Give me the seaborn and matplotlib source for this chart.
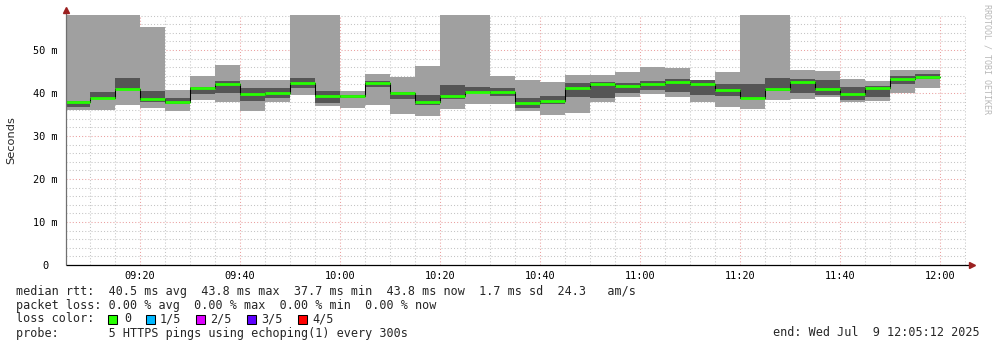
import numpy as np
import pandas as pd
import matplotlib
matplotlib.use("Agg")
import matplotlib.pyplot as plt
from matplotlib.patches import Rectangle
import seaborn as sns

# ---------------- data (ms), 5-minute slots starting 09:05 ... 11:55 ----------------
slot_start_min = [5 * k for k in range(1, 36)]  # minutes after 09:00
ping_min = [36.0, 36.0, 37.2, 36.6, 35.9, 38.4, 37.9, 35.9, 37.8, 39.6,
            37.0, 36.6, 37.2, 35.2, 34.7, 36.3, 37.4, 37.4, 35.8, 34.9,
            35.3, 37.8, 39.1, 39.7, 39.0, 38.0, 36.7, 36.3, 38.4, 38.7,
            39.1, 38.0, 38.1, 40.1, 41.2]
ping_q2 = [36.8, 38.6, 40.8, 38.0, 37.5, 39.8, 40.1, 38.2, 38.9, 41.2,
           37.6, 38.8, 41.5, 38.7, 37.1, 38.6, 39.9, 39.3, 36.4, 37.5,
           39.1, 38.9, 39.9, 40.7, 40.3, 39.5, 39.3, 38.5, 40.5, 40.1,
           39.5, 38.4, 39.0, 42.1, 43.3]
median_rtt = [37.8, 38.9, 41.0, 38.5, 37.9, 41.1, 42.2, 39.8, 40.0, 42.4,
              39.3, 39.3, 42.4, 39.9, 37.8, 39.3, 40.3, 40.2, 37.7, 38.2,
              41.2, 42.0, 41.6, 42.0, 42.6, 42.1, 40.7, 38.9, 40.9, 42.5,
              40.9, 39.8, 41.1, 43.3, 43.8]
ping_q4 = [38.2, 40.2, 43.5, 40.5, 38.8, 41.4, 42.7, 41.2, 41.2, 43.5,
           40.5, 39.6, 42.8, 40.3, 39.5, 41.9, 41.4, 41.2, 38.8, 39.3,
           42.3, 42.6, 42.4, 42.8, 43.3, 43.0, 42.1, 42.1, 43.5, 43.3,
           43.0, 41.4, 41.6, 43.9, 44.4]
ping_max = [65.0, 70.0, 62.0, 55.3, 40.6, 44.0, 46.5, 43.0, 43.0, 68.0,
            60.0, 40.4, 44.4, 43.8, 46.3, 64.0, 61.0, 44.0, 43.0, 42.6,
            44.2, 44.2, 44.9, 46.0, 45.8, 43.1, 44.9, 66.0, 63.0, 45.3,
            45.1, 43.2, 42.9, 45.3, 45.3]

x_tick_min = [20, 40, 60, 80, 100, 120, 140, 160, 180]
x_tick_labels = ["09:20", "09:40", "10:00", "10:20", "10:40", "11:00", "11:20", "11:40", "12:00"]
y_tick_vals = [0, 10, 20, 30, 40, 50]
y_tick_labels = ["0", "10 m", "20 m", "30 m", "40 m", "50 m"]

loss_labels = ["0", "1/5", "2/5", "3/5", "4/5"]
loss_colors = ["#26ff00", "#00b8ff", "#dd00ff", "#5e00ff", "#ff0000"]

legend_lines = [
    "median rtt:  40.5 ms avg  43.8 ms max  37.7 ms min  43.8 ms now  1.7 ms sd  24.3   am/s",
    "packet loss: 0.00 % avg  0.00 % max  0.00 % min  0.00 % now",
    "loss color:",
    "probe:       5 HTTPS pings using echoping(1) every 300s",
]
end_text = "end: Wed Jul  9 12:05:12 2025"

# ---------------- figure ----------------
sns.set_style("white")
MONO = ["DejaVu Sans Mono"]
plt.rcParams["font.family"] = MONO

W, H = 997, 347
fig = plt.figure(figsize=(W / 100, H / 100), dpi=100)
fig.patch.set_facecolor("white")
ax = fig.add_axes([66 / W, 1 - 265 / H, 900 / W, 250 / H])
ax.set_facecolor("white")

x0, x1 = 5.2, 185.2
y0, y1 = 0, 58.14

starts = np.array(slot_start_min, dtype=float)
pmin = np.array(ping_min); pq2 = np.array(ping_q2); med = np.array(median_rtt)
pq4 = np.array(ping_q4); pmax = np.array(ping_max)

# grid (under the smoke)
dots = (0, (1, 2))
minor_c = "#c4c4c4"
major_c = "#eaa0a0"
for v in np.arange(2, 58.1, 2):
    c = major_c if abs(v % 10) < 1e-6 else minor_c
    ax.axhline(v, color=c, lw=0.75, ls=dots, zorder=0.5)
for v in np.arange(10, 185.1, 5):
    c = major_c if v % 20 == 0 else minor_c
    ax.axvline(v, color=c, lw=0.75, ls=dots, zorder=0.5)

# smoke
ax.bar(starts, pmax - pmin, bottom=pmin, width=5, align="edge",
       color="#a0a0a0", linewidth=0, zorder=1)
ax.bar(starts, pq4 - pq2, bottom=pq2, width=5, align="edge",
       color="#555555", linewidth=0, zorder=2)

# black median step line
df = pd.DataFrame({"t": list(starts) + [starts[-1] + 5], "m": list(med) + [med[-1]]})
sns.lineplot(data=df, x="t", y="m", drawstyle="steps-post", color="black",
             linewidth=0.75, ax=ax, zorder=3, sort=True)

# green median bars
ax.hlines(med, starts, starts + 5, colors=loss_colors[0], linewidth=2.0,
          zorder=4, capstyle="butt")

ax.set_xlim(x0, x1)
ax.set_ylim(y0, y1)
ax.set_xlabel("")
ax.set_ylabel("")
for s in ax.spines.values():
    s.set_visible(False)

# axes lines and arrows
ax.plot([0, 0], [0, 1.012], transform=ax.transAxes, color="#707070", lw=0.9,
        clip_on=False, zorder=6, solid_capstyle="butt")
ax.plot([0, 1.003], [0, 0], transform=ax.transAxes, color="black", lw=0.9,
        clip_on=False, zorder=6, solid_capstyle="butt")
ax.plot([0], [1.02], transform=ax.transAxes, marker="^", color="#9b2020",
        markersize=4, clip_on=False, zorder=7)
ax.plot([1.0065], [0], transform=ax.transAxes, marker=">", color="#9b2020",
        markersize=4, clip_on=False, zorder=7)

# ticks
ax.set_xticks(x_tick_min)
ax.set_xticklabels(x_tick_labels)
ax.set_xticks(np.arange(10, 185.1, 5), minor=True)
ax.set_yticks(y_tick_vals)
ax.set_yticklabels(y_tick_labels)
ax.set_yticks(np.arange(2, 58.1, 2), minor=True)
ax.tick_params(axis="both", which="both", direction="out", color="#707070",
               width=0.7, labelsize=7.4, labelcolor="black")
ax.tick_params(axis="x", which="major", length=2.2, pad=2.2)
ax.tick_params(axis="x", which="minor", length=1.5)
ax.tick_params(axis="y", which="major", length=2.2, pad=12.6)
ax.tick_params(axis="y", which="minor", length=1.5)
for lab in ax.get_yticklabels():
    lab.set_horizontalalignment("center")
    lab.set_family(MONO)
for lab in ax.get_xticklabels():
    lab.set_family(MONO)

# y label
fig.text(11 / W, 1 - 140 / H, "Seconds", rotation=90, ha="center", va="center",
         fontsize=8.2, family=["DejaVu Sans"])

# watermark
fig.text(987 / W, 1 - 4 / H, "RRDTOOL / TOBI OETIKER", rotation=270, ha="center",
         va="top", fontsize=6.0, color="#b8b8b8", family=MONO)

# legend text
FS = 8.48
ys = [291, 305, 319, 333]
for line, yy in zip(legend_lines, ys):
    fig.text(16 / W, 1 - yy / H, line, ha="left", va="center", fontsize=FS, family=MONO)
fig.text(980 / W, 1 - 333 / H, end_text, ha="right", va="center", fontsize=FS, family=MONO)

sq_x = [108, 146, 196, 247, 298]
txt_x = [124, 160, 210, 261, 312]
for c, lab, sx, tx in zip(loss_colors, loss_labels, sq_x, txt_x):
    fig.add_artist(Rectangle((sx / W, 1 - 323.5 / H), 9 / W, 9 / H, transform=fig.transFigure,
                             facecolor=c, edgecolor="black", lw=0.75))
    fig.text(tx / W, 1 - 319 / H, lab, ha="left", va="center", fontsize=FS, family=MONO)

fig.savefig("out.png", dpi=100, facecolor="white")
